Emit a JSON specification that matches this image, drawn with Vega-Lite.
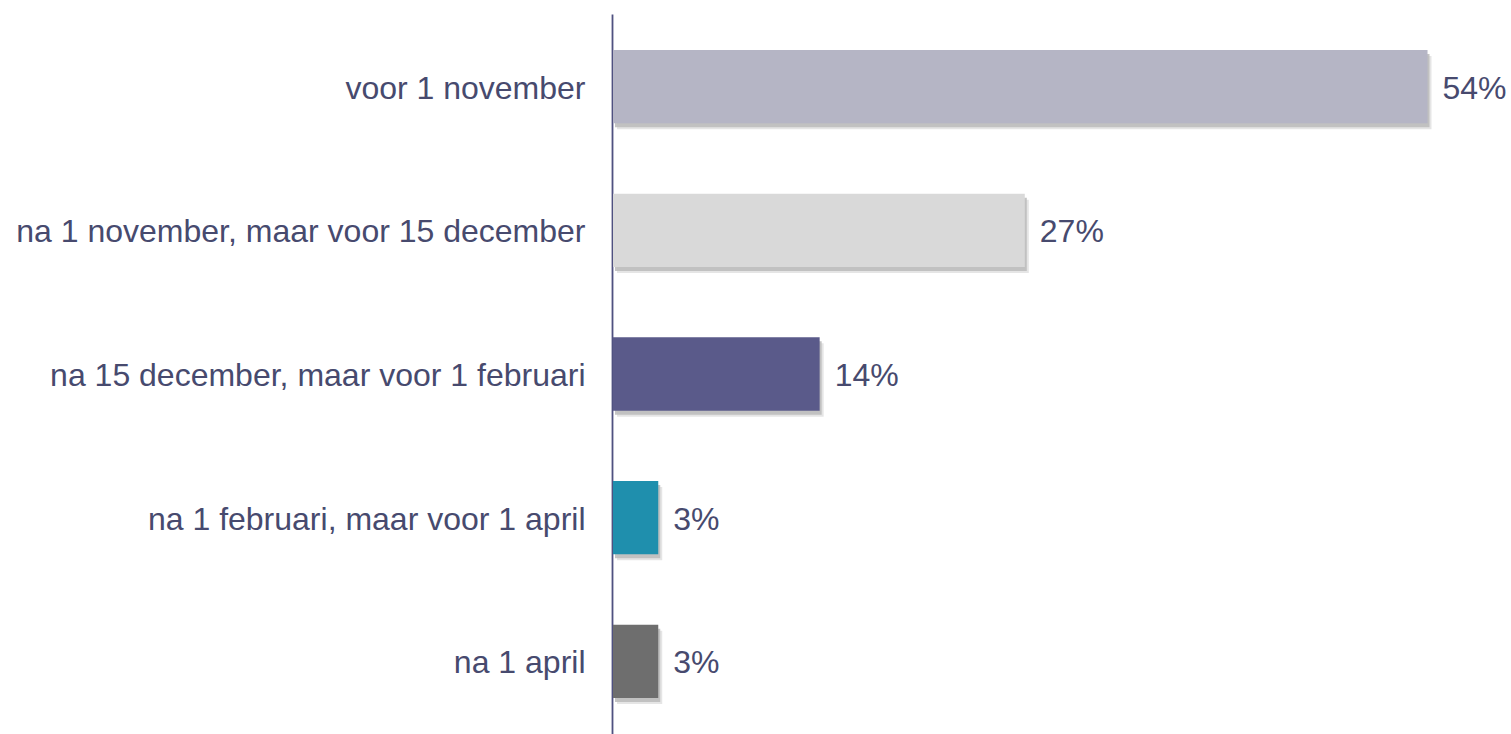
{
  "$schema": "https://vega.github.io/schema/vega-lite/v6.json",
  "width": 899,
  "height": 720,
  "padding": {"left": 0, "top": 14, "right": 0, "bottom": 0},
  "background": "white",
  "config": {"view": {"stroke": null}, "font": "Liberation Sans"},
  "data": {"values": [
    {"cat": "voor 1 november", "pct": 0.54},
    {"cat": "na 1 november, maar voor 15 december", "pct": 0.273},
    {"cat": "na 15 december, maar voor 1 februari", "pct": 0.137},
    {"cat": "na 1 februari, maar voor 1 april", "pct": 0.03},
    {"cat": "na 1 april", "pct": 0.03}
  ]},
  "encoding": {
    "y": {
      "field": "cat", "type": "nominal", "sort": null,
      "scale": {"paddingInner": 0.49, "paddingOuter": 0.25},
      "axis": {
        "title": null, "ticks": false, "labelFontSize": 32, "labelColor": "#474a6e",
        "labelPadding": 27, "labelFont": "Liberation Sans", "labelLimit": 800, "labelOffset": 2,
        "domainColor": "#4f5180", "domainWidth": 1.8, "grid": false,
        "minExtent": 612, "maxExtent": 612
      }
    },
    "x": {
      "field": "pct", "type": "quantitative",
      "scale": {"domain": [0, 0.596], "nice": false, "zero": true},
      "axis": null
    }
  },
  "layer": [
    {
      "mark": {"type": "bar", "color": "#8a8a8a", "opacity": 0.5, "xOffset": 3, "yOffset": 4},
      "encoding": {}
    },
    {
      "mark": {"type": "bar", "color": "#bdbdbd", "opacity": 0.4, "xOffset": 5, "yOffset": 6},
      "encoding": {}
    },
    {
      "mark": {"type": "bar", "xOffset": 1},
      "encoding": {
        "color": {
          "field": "cat", "type": "nominal", "legend": null,
          "scale": {
            "domain": ["voor 1 november", "na 1 november, maar voor 15 december", "na 15 december, maar voor 1 februari", "na 1 februari, maar voor 1 april", "na 1 april"],
            "range": ["#b5b5c5", "#d9d9d9", "#5a5a8a", "#1f8fad", "#6e6e6e"]
          }
        }
      }
    },
    {
      "mark": {"type": "text", "align": "left", "baseline": "middle", "dx": 16, "dy": 2, "fontSize": 32, "color": "#474a6e", "font": "Liberation Sans"},
      "encoding": {"text": {"field": "pct", "type": "quantitative", "format": ".0%"}}
    }
  ]
}
